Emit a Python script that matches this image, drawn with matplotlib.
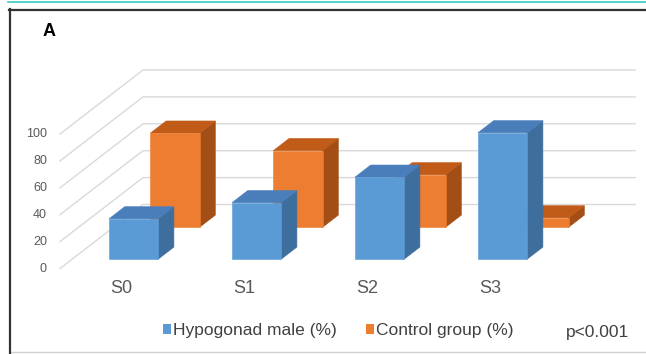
import matplotlib.pyplot as plt
from matplotlib.patches import Polygon, Patch
from matplotlib.lines import Line2D
from matplotlib.transforms import offset_copy

plt.rcParams["font.family"] = ["Liberation Sans", "DejaVu Sans"]

stages = ["S0", "S1", "S2", "S3"]
hypogonad = [30, 42, 61, 94]
control = [70, 57, 39, 7]
value_ticks = [0, 20, 40, 60, 80, 100]
series_names = ["Hypogonad male (%)", "Control group (%)"]

# front / top / side shades for each series
blue = ("#5b9bd5", "#4a7ebb", "#3e6e9e")
orange = ("#ed7d31", "#c15b18", "#a24e15")

W, H = 646, 354

# oblique "3-D" layout, in pixels of the final image
CAT_PX = 123.0      # spacing between categories
ORIGIN_X = 121.5    # centre of S0 on the front plane
ORIGIN_Y = 268.5    # value 0 on the front plane (from the top)
VAL_PX = 1.345      # pixels per percent
DEPTH_X = 83.0 / CAT_PX
DEPTH_Y = 64.0 / VAL_PX

BAR_W = 0.4
BAR_T = 0.19        # bar thickness as a fraction of the floor depth
ROW_DEPTH = {"front": 0.145, "back": 0.644}


def proj(x, v, d):
    return (x + DEPTH_X * d, v + DEPTH_Y * d)


def draw_bar(ax, c, h, d0, shades):
    front, top, side = shades
    l, r, d1 = c - BAR_W / 2, c + BAR_W / 2, d0 + BAR_T
    faces = [
        ([proj(r, 0, d0), proj(r, 0, d1), proj(r, h, d1), proj(r, h, d0)], side),
        ([proj(l, h, d0), proj(r, h, d0), proj(r, h, d1), proj(l, h, d1)], top),
        ([proj(l, 0, d0), proj(r, 0, d0), proj(r, h, d0), proj(l, h, d0)], front),
    ]
    for pts, col in faces:
        ax.add_patch(Polygon(pts, closed=True, facecolor=col, edgecolor=col,
                             linewidth=0.4, zorder=3))


fig = plt.figure(figsize=(W / 100, H / 100), dpi=100)
ax = fig.add_axes([0, 0, 1, 1])
ax.axis("off")
ax.set_xlim(-ORIGIN_X / CAT_PX, (W - ORIGIN_X) / CAT_PX)
ax.set_ylim((ORIGIN_Y - H) / VAL_PX, ORIGIN_Y / VAL_PX)

# side wall and back wall gridlines
left, right = -0.5, len(stages) - 0.5
for v in value_ticks:
    x0, y0 = proj(left, v, 0)
    x1, y1 = proj(left, v, 1)
    x2, y2 = proj(right, v, 1)
    ax.plot([x0, x1, x2], [y0, y1, y2], color="#d9d9d9", lw=1.0, zorder=1)

tick_tr = offset_copy(ax.transData, fig=fig, x=-13, y=0, units="dots")
for v in value_ticks:
    ax.text(*proj(left, v, 0), str(v), transform=tick_tr, ha="right",
            va="center", fontsize=9, color="#595959")

# back row first, then the front row
for i, h in enumerate(control):
    draw_bar(ax, i, h, ROW_DEPTH["back"], orange)
for i, h in enumerate(hypogonad):
    draw_bar(ax, i, h, ROW_DEPTH["front"], blue)

cat_tr = offset_copy(ax.transData, fig=fig, x=0, y=-20, units="dots")
for i, s in enumerate(stages):
    ax.text(*proj(i, 0, 0), s, transform=cat_tr, ha="center", va="center",
            fontsize=13, color="#595959")

handles = [Patch(facecolor=blue[0], edgecolor="none"),
           Patch(facecolor=orange[0], edgecolor="none")]
fig.legend(handles, series_names, loc="center",
           bbox_to_anchor=(338 / W, 1 - 330.5 / H), ncol=2, frameon=False,
           fontsize=12.5, labelcolor="#404040", handlelength=0.46,
           handleheight=0.46, handletextpad=0.1, columnspacing=1.7,
           borderpad=0, borderaxespad=0)

fig.text(566 / W, 1 - 333 / H, "p<0.001", ha="left", va="center",
         fontsize=12.5, color="#404040")
fig.text(49.5 / W, 1 - 31 / H, "A", ha="center", va="center",
         fontsize=13, fontweight="bold", color="black")

# panel frame and the rule above it
def hline(y, x0, x1, **kw):
    fig.add_artist(Line2D([x0 / W, x1 / W], [1 - y / H, 1 - y / H],
                          transform=fig.transFigure, **kw))


hline(2, 8, W, color="#3cc9c4", lw=1.2)
hline(9.5, 9, W, color="#333333", lw=1.6)
hline(351.7, 10, W, color="#d0d0d0", lw=1.0)
fig.add_artist(Line2D([9.5 / W, 9.5 / W], [1 - 9 / H, 0],
                      transform=fig.transFigure, color="#333333", lw=1.6))

fig.savefig("out.png", dpi=100)
